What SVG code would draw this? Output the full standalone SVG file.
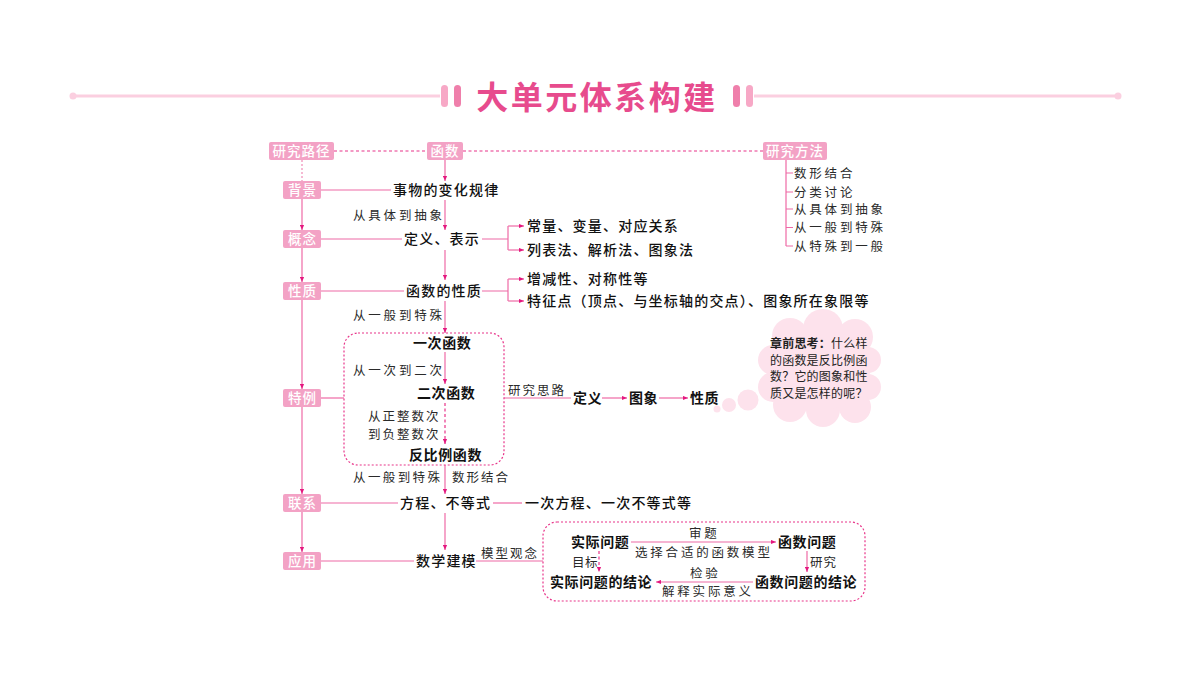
<svg xmlns="http://www.w3.org/2000/svg" width="1200" height="675" viewBox="0 0 1200 675">
<defs>
<style>
text{font-family:"Noto Sans CJK SC","Noto Sans CJK JP",sans-serif;}
.t{font-size:14px;fill:#111;letter-spacing:1.2px;font-weight:500;}
.b{font-size:14px;fill:#111;letter-spacing:0.6px;font-weight:700;}
.k{font-size:12.5px;fill:#2a2a2a;letter-spacing:2.8px;font-weight:400;}
.bx{fill:#f3a2c5;}
.bt{font-size:13.5px;fill:#fff;letter-spacing:1px;font-weight:500;}
.ln{stroke:#ee6aa6;stroke-width:1.2;fill:none;}
.dl{stroke:#e8358a;stroke-width:1.2;fill:none;stroke-dasharray:3 2.5;}
.db{stroke:#e8358a;stroke-width:1.2;fill:none;stroke-dasharray:2 2;}
.cl{fill:#fde2ec;}
.ct{font-size:12px;fill:#222;font-weight:400;letter-spacing:0.2px;}
</style>
<marker id="ah" viewBox="0 0 6 6" refX="6" refY="3" markerWidth="5" markerHeight="5" orient="auto" markerUnits="userSpaceOnUse"><path d="M0,0.5 L6,3 L0,5.5 z" fill="#e4187f"/></marker>
</defs>
<rect width="1200" height="675" fill="#fff"/>

<g id="title">
<line x1="72" y1="96" x2="440" y2="96" stroke="#fbcfe0" stroke-width="3"/>
<line x1="754" y1="96" x2="1118" y2="96" stroke="#fbcfe0" stroke-width="3"/>
<circle cx="73" cy="96" r="3.5" fill="#fbcfe0"/>
<circle cx="1118" cy="96" r="3.5" fill="#fbcfe0"/>
<rect x="441" y="85" width="7" height="22" rx="3.5" fill="#f7a8c6"/>
<rect x="454" y="85" width="7" height="22" rx="3.5" fill="#ef7fab"/>
<rect x="733" y="85" width="7" height="22" rx="3.5" fill="#ef7fab"/>
<rect x="746" y="85" width="7" height="22" rx="3.5" fill="#f7a8c6"/>
<text x="597" y="109" text-anchor="middle" style="font-size:32px;font-weight:700;fill:#e74b8d;letter-spacing:2.5px">大单元体系构建</text>
</g>

<g id="connectors">
<line class="dl" x1="334" y1="151" x2="427" y2="151"/>
<line class="dl" x1="463" y1="151" x2="763" y2="151"/>
<line x1="302" y1="160" x2="302" y2="181" stroke="#f3a2c5" stroke-width="1.5" stroke-dasharray="2 2"/>
<line class="ln" x1="302" y1="199" x2="302" y2="230" marker-end="url(#ah)"/>
<line class="ln" x1="302" y1="248" x2="302" y2="282" marker-end="url(#ah)"/>
<line class="ln" x1="302" y1="300" x2="302" y2="389" marker-end="url(#ah)"/>
<line class="ln" x1="302" y1="407" x2="302" y2="494" marker-end="url(#ah)"/>
<line class="ln" x1="302" y1="512" x2="302" y2="552" marker-end="url(#ah)"/>
<line class="ln" x1="321" y1="190" x2="391" y2="190"/>
<line class="ln" x1="321" y1="239" x2="402" y2="239"/>
<line class="ln" x1="321" y1="291" x2="404" y2="291"/>
<line class="ln" x1="321" y1="398" x2="344" y2="398"/>
<line class="ln" x1="321" y1="503" x2="398" y2="503"/>
<line class="ln" x1="321" y1="561" x2="414" y2="561"/>
<line class="ln" x1="445" y1="160" x2="445" y2="181" marker-end="url(#ah)"/>
<line class="ln" x1="445" y1="200" x2="445" y2="230" marker-end="url(#ah)"/>
<line class="ln" x1="445" y1="250" x2="445" y2="280" marker-end="url(#ah)"/>
<line class="ln" x1="445" y1="301" x2="445" y2="333" marker-end="url(#ah)"/>
<line class="ln" x1="445" y1="352" x2="445" y2="384" marker-end="url(#ah)"/>
<line class="dl" x1="445" y1="403" x2="445" y2="444" marker-end="url(#ah)"/>
<line class="ln" x1="445" y1="465" x2="445" y2="494" marker-end="url(#ah)"/>
<line class="ln" x1="445" y1="513" x2="445" y2="550" marker-end="url(#ah)"/>
<path class="ln" d="M482,239 H508 M508,226 V250"/>
<line class="ln" x1="508" y1="226" x2="524" y2="226" marker-end="url(#ah)"/>
<line class="ln" x1="508" y1="250" x2="524" y2="250" marker-end="url(#ah)"/>
<path class="ln" d="M482,291 H508 M508,279 V301"/>
<line class="ln" x1="508" y1="279" x2="524" y2="279" marker-end="url(#ah)"/>
<line class="ln" x1="508" y1="301" x2="524" y2="301" marker-end="url(#ah)"/>
<path class="ln" d="M786,160 V246 M786,173 H793 M786,192 H793 M786,209 H793 M786,227.5 H793 M786,246 H793"/>
<line class="ln" x1="504" y1="398" x2="571" y2="398"/>
<line class="ln" x1="602" y1="398" x2="627" y2="398" marker-end="url(#ah)"/>
<line class="ln" x1="659" y1="398" x2="688" y2="398" marker-end="url(#ah)"/>
<line class="ln" x1="493" y1="503" x2="522" y2="503"/>
<line class="ln" x1="476" y1="561" x2="543" y2="561"/>
<line class="ln" x1="631" y1="542" x2="776" y2="542" marker-end="url(#ah)"/>
<line class="ln" x1="807" y1="551" x2="807" y2="572" marker-end="url(#ah)"/>
<line class="ln" x1="753" y1="582" x2="656" y2="582" marker-end="url(#ah)"/>
<line class="dl" x1="599" y1="551" x2="599" y2="572" marker-end="url(#ah)"/>
</g>

<g id="header-boxes">
<rect class="bx" x="269" y="142" width="65" height="18" rx="2"/>
<text class="bt" x="301.5" y="156" text-anchor="middle">研究路径</text>
<rect class="bx" x="427" y="142" width="36" height="18" rx="2"/>
<text class="bt" x="445" y="156" text-anchor="middle">函数</text>
<rect class="bx" x="763" y="142" width="64" height="18" rx="2"/>
<text class="bt" x="795" y="156" text-anchor="middle">研究方法</text>
</g>

<g id="left-boxes">
<rect class="bx" x="283" y="181" width="38" height="18" rx="2"/>
<text class="bt" x="302.5" y="195" text-anchor="middle">背景</text>
<rect class="bx" x="283" y="230" width="38" height="18" rx="2"/>
<text class="bt" x="302.5" y="244" text-anchor="middle">概念</text>
<rect class="bx" x="283" y="282" width="38" height="18" rx="2"/>
<text class="bt" x="302.5" y="296" text-anchor="middle">性质</text>
<rect class="bx" x="283" y="389" width="38" height="18" rx="2"/>
<text class="bt" x="302.5" y="403" text-anchor="middle">特例</text>
<rect class="bx" x="283" y="494" width="38" height="18" rx="2"/>
<text class="bt" x="302.5" y="508" text-anchor="middle">联系</text>
<rect class="bx" x="283" y="552" width="38" height="18" rx="2"/>
<text class="bt" x="302.5" y="566" text-anchor="middle">应用</text>
</g>

<g id="methods">
<text class="k" x="794" y="177.5">数形结合</text>
<text class="k" x="794" y="196.5">分类讨论</text>
<text class="k" x="794" y="213.5">从具体到抽象</text>
<text class="k" x="794" y="232">从一般到特殊</text>
<text class="k" x="794" y="250.5">从特殊到一般</text>
</g>

<g id="center-nodes">
<text class="t" x="393" y="195.3">事物的变化规律</text>
<text class="k" x="353" y="219.5">从具体到抽象</text>
<text class="t" x="404" y="244.3">定义、表示</text>
<text class="t" x="527" y="231.3">常量、变量、对应关系</text>
<text class="t" x="527" y="255.3">列表法、解析法、图象法</text>
<text class="t" x="406" y="296.3">函数的性质</text>
<text class="t" x="527" y="284.3">增减性、对称性等</text>
<text class="t" x="527" y="306.3">特征点（顶点、与坐标轴的交点）、图象所在象限等</text>
<text class="k" x="353" y="319.5">从一般到特殊</text>
</g>

<g id="special-cases">
<rect class="db" x="344" y="333" width="160" height="132" rx="14"/>
<text class="b" x="413" y="348.3">一次函数</text>
<text class="k" x="353" y="374.5">从一次到二次</text>
<text class="b" x="417" y="398.3">二次函数</text>
<text class="k" x="368" y="420.5" style="letter-spacing:2px">从正整数次</text>
<text class="k" x="368" y="439" style="letter-spacing:2px">到负整数次</text>
<text class="b" x="409" y="460.3">反比例函数</text>
<text class="k" x="353" y="481.5" style="letter-spacing:2.4px">从一般到特殊</text>
<text class="k" x="452" y="481.5" style="letter-spacing:2px">数形结合</text>
</g>

<g id="study-path">
<text class="k" x="508" y="394.5" style="letter-spacing:2px">研究思路</text>
<text class="b" x="573" y="403.3">定义</text>
<text class="b" x="629" y="403.3">图象</text>
<text class="b" x="690" y="403.3">性质</text>
</g>

<g id="cloud">
<circle class="cl" cx="717" cy="409" r="3.5"/>
<circle class="cl" cx="729" cy="405" r="7"/>
<circle class="cl" cx="748" cy="400" r="10.5"/>
<circle class="cl" cx="790" cy="336" r="18"/>
<circle class="cl" cx="823" cy="329" r="20"/>
<circle class="cl" cx="855" cy="337" r="18"/>
<circle class="cl" cx="868" cy="360" r="13"/>
<circle class="cl" cx="868" cy="387" r="13"/>
<circle class="cl" cx="855" cy="407" r="16"/>
<circle class="cl" cx="823" cy="410" r="17"/>
<circle class="cl" cx="790" cy="405" r="17"/>
<circle class="cl" cx="773" cy="360" r="15"/>
<circle class="cl" cx="773" cy="387" r="15"/>
<ellipse class="cl" cx="820" cy="370" rx="50" ry="40"/>
<text class="ct" x="770" y="348"><tspan font-weight="700">章前思考：</tspan>什么样</text>
<text class="ct" x="770" y="364.5">的函数是反比例函</text>
<text class="ct" x="770" y="381">数？它的图象和性</text>
<text class="ct" x="770" y="397.5">质又是怎样的呢？</text>
</g>

<g id="relation">
<text class="t" x="400" y="508.3">方程、不等式</text>
<text class="t" x="525" y="508.3">一次方程、一次不等式等</text>
</g>

<g id="application">
<text class="t" x="416" y="566.3">数学建模</text>
<text class="k" x="481" y="557.5" style="letter-spacing:2px">模型观念</text>
<rect class="db" x="543" y="522" width="322" height="79" rx="14"/>
<text class="b" x="571" y="547.3">实际问题</text>
<text class="k" x="689" y="537.5">审题</text>
<text class="k" x="635" y="556.5">选择合适的函数模型</text>
<text class="b" x="778" y="547.3">函数问题</text>
<text class="k" x="810" y="566.5" style="letter-spacing:1px">研究</text>
<text class="b" x="755" y="587.3">函数问题的结论</text>
<text class="k" x="690" y="577.5">检验</text>
<text class="k" x="662" y="595.5">解释实际意义</text>
<text class="b" x="550" y="587.3">实际问题的结论</text>
<text class="k" x="572" y="566.5" style="letter-spacing:0.5px">目标</text>
</g>
</svg>
